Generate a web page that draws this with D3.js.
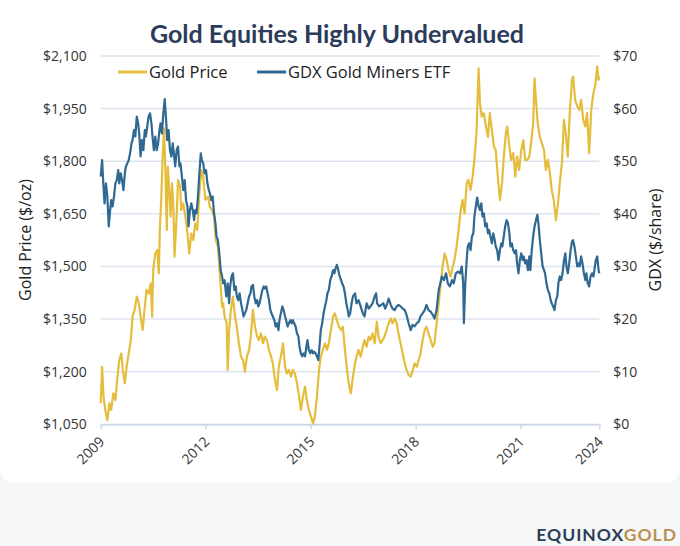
<!DOCTYPE html>
<html>
<head>
<meta charset="utf-8">
<script src="https://cdn.jsdelivr.net/npm/d3@7"></script>
<style>
  html, body { margin: 0; padding: 0; background: #f2f3f5; }
  svg { display: block; }
</style>
</head>
<body>
<svg id="chart" width="680" height="546"></svg>
<script>
// values (x = position on the chart's year axis)
const goldDates = [
  2009.00,2009.04,2009.08,2009.13,2009.19,2009.25,2009.30,2009.36,2009.42,2009.48,
  2009.53,2009.59,2009.63,2009.69,2009.74,2009.80,2009.86,2009.91,2009.97,2010.03,
  2010.09,2010.14,2010.20,2010.26,2010.31,2010.37,2010.43,2010.47,2010.50,2010.56,
  2010.62,2010.66,2010.69,2010.73,2010.77,2010.81,2010.85,2010.89,2010.92,2010.96,
  2011.00,2011.04,2011.08,2011.11,2011.17,2011.21,2011.27,2011.30,2011.36,2011.42,
  2011.48,2011.53,2011.59,2011.65,2011.70,2011.76,2011.82,2011.88,2011.93,2011.99,
  2012.07,2012.12,2012.18,2012.24,2012.29,2012.35,2012.41,2012.47,2012.50,2012.54,
  2012.60,2012.63,2012.67,2012.72,2012.78,2012.84,2012.89,2012.95,2013.01,2013.07,
  2013.12,2013.18,2013.24,2013.29,2013.35,2013.41,2013.47,2013.52,2013.58,2013.64,
  2013.69,2013.75,2013.81,2013.87,2013.92,2013.98,2014.04,2014.09,2014.15,2014.21,
  2014.27,2014.32,2014.38,2014.44,2014.49,2014.55,2014.61,2014.67,2014.72,2014.78,
  2014.84,2014.89,2014.95,2015.01,2015.07,2015.12,2015.18,2015.24,2015.29,2015.35,
  2015.41,2015.47,2015.52,2015.58,2015.64,2015.69,2015.75,2015.81,2015.87,2015.92,
  2015.98,2016.04,2016.09,2016.15,2016.21,2016.27,
  2016.31,2016.37,2016.43,2016.49,2016.54,2016.60,2016.66,2016.71,2016.77,2016.83,
  2016.89,2016.94,2017.00,2017.06,2017.11,2017.17,2017.23,2017.29,2017.34,2017.40,
  2017.46,2017.51,2017.57,2017.63,2017.69,2017.74,2017.80,2017.86,2017.91,2017.97,
  2018.03,2018.09,2018.14,2018.20,2018.26,2018.31,2018.37,2018.43,2018.49,2018.54,
  2018.60,2018.66,2018.71,2018.77,2018.83,2018.89,2018.94,2019.00,2019.06,2019.11,
  2019.17,2019.23,2019.29,2019.34,2019.40,
  2019.46,2019.51,2019.57,2019.63,2019.68,2019.74,2019.80,2019.84,2019.89,2019.95,
  2020.01,2020.07,2020.12,2020.18,2020.24,2020.29,2020.35,2020.41,2020.47,2020.52,
  2020.58,2020.62,2020.68,2020.73,2020.79,2020.85,2020.90,2020.96,2021.02,2021.08,
  2021.13,2021.19,2021.25,2021.30,2021.36,2021.40,2021.44,2021.49,2021.55,2021.61,
  2021.67,2021.72,2021.78,2021.84,2021.89,2021.95,2022.01,2022.07,2022.12,2022.18,
  2022.24,2022.29,2022.35,2022.41,2022.47,2022.50,2022.56,2022.62,2022.68,2022.73,
  2022.79,2022.85,2022.90,2022.96,2023.02,2023.08,2023.13,2023.19,2023.23,2023.25
];
const goldPrice = [
  1110,1214,1129,1091,1062,1110,1091,1138,1119,1186,
  1233,1252,1205,1167,1214,1252,1290,1357,1376,1414,
  1395,1357,1319,1385,1433,1423,1452,1357,1490,1537,
  1547,1480,1604,1690,1813,1894,1766,1604,1785,1718,
  1642,1737,1661,1528,1642,1747,1727,1661,1680,1642,
  1594,1537,1594,1575,1623,1604,1709,1775,1756,1690,
  1699,1670,1661,1642,1575,1556,1471,1385,1395,1357,
  1338,1205,1319,1376,1414,1357,1328,1281,1243,1233,
  1200,1243,1262,1300,1376,1328,1300,1290,1309,1281,
  1300,1290,1262,1243,1224,1176,1148,1214,1243,1281,
  1214,1195,1205,1186,1205,1195,1167,1129,1091,1129,
  1157,1119,1091,1072,1052,1072,1129,1205,1243,1262,
  1281,1262,1281,1319,1357,1366,1347,1328,1319,1328,
  1262,1205,1167,1138,1186,1224,
  1243,1262,1243,1271,1290,1271,1300,1290,1309,1281,
  1343,1300,1281,1290,1300,1319,1338,1352,1338,1352,
  1338,1309,1281,1252,1224,1205,1191,1186,1200,1224,
  1214,1233,1252,1290,1319,1328,1309,1290,1271,1281,
  1338,1395,1442,1499,1537,1518,1490,1471,1499,1518,
  1556,1604,1661,1690,1651,
  1737,1747,1718,1756,1804,1880,2065,1965,1927,1937,
  1899,1870,1937,1889,1841,1832,1756,1689,1737,1813,
  1880,1899,1841,1804,1823,1756,1813,1775,1832,1860,
  1804,1804,1813,1851,1908,2036,1975,1908,1870,1851,
  1832,1775,1804,1765,1718,1689,1632,1680,1737,1794,
  1918,1880,1813,1946,2032,2041,1975,1956,1946,1975,
  1918,1899,1937,1823,1946,1994,2013,2070,2032,2041
];

const gdxDates = [
  2009.00,2009.04,2009.08,2009.11,2009.15,2009.19,2009.23,2009.27,2009.30,2009.34,
  2009.38,2009.42,2009.46,2009.50,2009.53,2009.57,2009.61,2009.65,2009.69,2009.72,
  2009.76,2009.80,2009.84,2009.88,2009.91,2009.95,2009.99,2010.03,2010.07,2010.10,
  2010.14,2010.18,2010.22,2010.26,2010.29,2010.33,2010.37,2010.41,2010.45,2010.48,
  2010.52,2010.56,2010.60,2010.64,2010.68,2010.71,2010.75,2010.79,2010.83,2010.87,
  2010.90,2010.94,2010.98,2011.02,2011.06,2011.09,2011.13,2011.17,2011.21,2011.25,
  2011.28,2011.32,2011.36,2011.40,2011.44,2011.48,2011.51,2011.55,2011.59,2011.63,
  2011.67,2011.70,2011.74,2011.78,2011.82,2011.86,2011.89,2011.93,2011.97,2012.01,
  2012.05,2012.09,2012.12,2012.16,2012.20,2012.24,2012.28,2012.31,2012.35,2012.39,
  2012.43,2012.47,2012.50,2012.54,
  2012.59,2012.63,2012.67,2012.70,2012.74,2012.78,2012.82,2012.86,2012.89,2012.93,
  2012.97,2013.01,2013.05,2013.08,2013.12,2013.16,2013.20,2013.24,2013.28,2013.31,
  2013.35,2013.39,2013.43,2013.47,2013.50,2013.54,2013.58,2013.62,2013.66,2013.69,
  2013.73,2013.77,2013.81,2013.85,2013.88,2013.92,2013.96,2014.00,2014.04,2014.08,
  2014.11,2014.15,2014.19,2014.23,2014.27,2014.30,2014.34,2014.38,2014.42,2014.46,
  2014.49,2014.53,2014.57,2014.61,2014.65,2014.68,2014.72,2014.76,2014.80,2014.84,
  2014.88,2014.91,2014.95,2014.99,2015.03,2015.07,2015.10,2015.14,2015.18,2015.22,
  2015.26,2015.29,2015.33,2015.37,2015.41,2015.45,2015.48,2015.52,2015.56,2015.60,
  2015.64,2015.68,2015.71,2015.75,2015.79,2015.83,2015.87,2015.90,2015.94,2015.98,
  2016.02,2016.06,2016.09,2016.13,2016.17,2016.21,2016.27,
  2016.31,2016.37,2016.43,2016.49,2016.54,2016.60,2016.66,2016.71,2016.77,2016.83,
  2016.87,2016.90,2016.96,2017.02,2017.08,2017.13,2017.19,2017.23,2017.29,2017.34,
  2017.40,2017.46,2017.51,2017.57,2017.63,2017.69,2017.74,2017.80,2017.86,2017.91,
  2017.97,2018.03,2018.09,2018.14,2018.20,2018.26,2018.31,2018.37,2018.43,2018.49,
  2018.54,2018.60,2018.66,
  2018.75,2018.81,2018.87,2018.92,2018.98,2019.04,2019.09,2019.15,2019.21,2019.27,
  2019.32,2019.36,2019.38,2019.42,2019.46,2019.49,2019.53,2019.57,2019.61,2019.65,
  2019.68,2019.72,2019.76,2019.80,2019.84,2019.88,2019.91,2019.95,2019.99,2020.03,
  2020.07,2020.10,2020.14,2020.18,2020.22,2020.26,2020.29,2020.33,2020.37,2020.41,
  2020.45,2020.48,2020.52,2020.56,2020.60,2020.64,2020.68,2020.71,2020.75,2020.79,
  2020.83,2020.87,2020.90,2020.94,2020.98,2021.02,2021.06,2021.09,2021.13,2021.17,
  2021.21,2021.25,2021.28,2021.32,2021.36,2021.40,2021.44,2021.48,2021.51,2021.55,
  2021.59,2021.63,2021.67,2021.70,2021.74,2021.78,2021.82,2021.86,2021.89,2021.93,
  2021.97,2022.01,2022.05,2022.08,2022.12,2022.16,2022.20,2022.24,2022.28,2022.31,
  2022.35,2022.39,2022.43,2022.47,2022.50,2022.54,2022.58,2022.62,2022.66,2022.69,
  2022.73,2022.77,2022.81,2022.85,2022.88,2022.92,2022.96,2023.00,2023.04,2023.08,
  2023.11,2023.15,2023.19,2023.23,2023.25
];
const gdxPrice = [
  47.1,50.2,45.2,42.0,45.8,43.3,37.6,40.7,42.6,41.4,
  43.3,45.8,46.4,48.3,45.8,47.7,46.4,44.5,47.7,49.0,
  49.6,50.2,51.5,53.4,54.0,55.9,54.7,58.5,57.2,55.3,
  50.9,54.0,52.1,55.9,54.7,56.6,58.5,59.1,57.2,54.7,
  52.1,54.7,52.1,53.4,55.9,57.2,55.3,59.1,61.8,57.8,
  54.0,55.9,52.1,50.9,53.4,51.5,49.0,52.1,52.8,49.0,
  49.6,47.1,44.5,46.4,42.6,41.4,37.6,40.7,42.0,40.7,
  38.8,40.7,40.1,43.3,47.7,51.5,50.2,49.6,47.7,48.3,
  45.8,44.5,43.9,42.6,43.3,40.1,38.2,35.7,35.0,32.5,
  29.3,28.1,26.8,27.4,
  24.3,26.8,23.0,26.2,28.1,28.7,25.5,26.2,24.3,23.6,
  24.9,23.0,21.7,20.5,21.1,21.7,23.0,24.3,24.9,26.2,
  26.5,24.3,23.0,23.6,22.4,23.0,24.3,25.5,26.2,25.8,
  26.2,24.9,23.6,21.7,21.1,20.5,19.8,18.6,19.2,17.9,
  19.8,21.1,22.4,21.7,20.5,19.8,18.6,19.2,19.8,19.2,
  19.8,19.2,18.6,17.3,16.7,14.8,13.5,12.9,13.5,12.9,
  14.8,16.0,14.1,13.5,14.1,13.5,13.8,13.5,12.9,12.2,
  15.4,17.9,19.2,21.1,22.4,23.6,24.9,25.5,27.4,28.1,
  29.3,28.7,29.6,30.3,29.3,28.1,27.4,26.8,26.2,24.9,
  23.0,21.7,20.5,21.1,23.0,24.3,24.9,
  23.0,23.6,22.4,21.1,20.5,23.0,22.0,22.4,23.0,24.3,
  24.9,23.0,22.4,22.7,23.0,22.0,23.0,23.9,22.7,22.0,
  21.7,22.4,22.7,22.4,22.0,21.7,20.8,19.2,17.9,18.9,
  18.6,19.2,19.5,20.5,21.1,21.7,22.7,21.7,21.4,20.8,
  20.1,21.7,25.5,
  28.1,27.4,28.7,26.8,26.2,27.4,26.8,28.7,29.0,28.7,
  30.0,26.8,19.2,26.8,31.2,33.8,34.4,33.1,35.7,36.3,
  39.5,41.4,43.1,41.4,40.7,42.0,39.5,40.1,37.6,38.2,
  36.3,36.9,35.7,34.4,36.3,35.0,33.8,33.1,31.2,33.1,
  34.4,33.8,35.7,37.6,38.8,38.2,36.3,33.8,34.4,33.1,
  32.5,33.1,30.6,28.7,31.2,32.5,31.2,31.9,30.6,31.2,
  29.3,31.9,29.3,33.1,35.7,37.6,38.8,39.8,38.2,35.0,
  32.5,30.0,29.3,28.7,26.8,25.5,24.9,23.6,23.0,22.4,
  21.7,23.6,24.3,26.8,28.1,27.4,28.7,31.2,32.5,30.0,
  28.7,30.6,33.1,34.7,35.0,33.8,31.9,30.0,30.6,30.0,
  31.9,30.6,28.7,27.4,28.7,26.8,26.2,28.1,28.7,28.1,
  29.3,31.2,31.9,29.3,28.7
];

const goldTicks = [1050, 1200, 1350, 1500, 1650, 1800, 1950, 2100];
const gdxTicks = [0, 10, 20, 30, 40, 50, 60, 70];
const yearTicks = [2009, 2012, 2015, 2018, 2021, 2023.25];
const yearLabels = ["2009", "2012", "2015", "2018", "2021", "2024"];
const seriesNames = ["Gold Price", "GDX Gold Miners ETF"];

const W = 680, H = 546;
const plotLeft = 100.7, plotRight = 599.3, plotTop = 56, plotBottom = 424.3;
const goldColor = "#e5bd3d", gdxColor = "#2f6891";
const font = "'Open Sans', 'Noto Sans', sans-serif";

const svg = d3.select("#chart");

// page background and white card
const defs = svg.append("defs");
const bg = defs.append("linearGradient").attr("id", "bg").attr("x1", 0).attr("y1", 0).attr("x2", 0).attr("y2", 1);
bg.append("stop").attr("offset", "0%").attr("stop-color", "#eceef1");
bg.append("stop").attr("offset", "100%").attr("stop-color", "#f6f7f9");
svg.append("rect").attr("width", W).attr("height", H).attr("fill", "url(#bg)");
svg.append("rect")
  .attr("x", 0).attr("y", -20).attr("width", W).attr("height", 503)
  .attr("rx", 14).attr("fill", "#fff");

const x = d3.scaleLinear().domain([yearTicks[0], yearTicks[yearTicks.length - 1]]).range([plotLeft, plotRight]);
const yGold = d3.scaleLinear().domain([goldTicks[0], goldTicks[goldTicks.length - 1]]).range([plotBottom, plotTop]);
const yGdx = d3.scaleLinear().domain([gdxTicks[0], gdxTicks[gdxTicks.length - 1]]).range([plotBottom, plotTop]);

// gridlines
svg.append("g")
  .selectAll("line")
  .data(goldTicks.slice(1))
  .enter().append("line")
  .attr("x1", plotLeft).attr("x2", plotRight)
  .attr("y1", d => yGold(d)).attr("y2", d => yGold(d))
  .attr("stroke", "#dde3ef").attr("stroke-width", 1.5);

// axes
const styleText = g => g.selectAll("text")
  .attr("font-family", font).attr("font-size", 14).attr("fill", "#333");

svg.append("g")
  .attr("transform", `translate(${plotLeft},0)`)
  .call(d3.axisLeft(yGold).tickValues(goldTicks).tickSize(0).tickPadding(14)
    .tickFormat(d => "$" + d3.format(",")(d)))
  .call(g => g.select(".domain").remove())
  .call(styleText);

svg.append("g")
  .attr("transform", `translate(${plotRight},0)`)
  .call(d3.axisRight(yGdx).tickValues(gdxTicks).tickSize(0).tickPadding(14)
    .tickFormat(d => "$" + d))
  .call(g => g.select(".domain").remove())
  .call(styleText);

const xAxis = svg.append("g")
  .attr("transform", `translate(0,${plotBottom})`)
  .call(d3.axisBottom(x).tickValues(yearTicks).tickSize(5).tickSizeOuter(0)
    .tickFormat((d, i) => yearLabels[i]));
xAxis.select(".domain").attr("stroke", "#cdd8ea").attr("stroke-width", 2);
xAxis.selectAll(".tick line").attr("stroke", "#cdd8ea").attr("stroke-width", 1.5);
xAxis.call(styleText);
xAxis.selectAll("text")
  .attr("text-anchor", "end")
  .attr("x", -10).attr("y", 11).attr("dy", "0.35em")
  .attr("transform", "rotate(-45)");

// series
const goldData = goldDates.map((d, i) => [d, goldPrice[i]]);
const gdxData = gdxDates.map((d, i) => [d, gdxPrice[i]]);

svg.append("path")
  .datum(goldData)
  .attr("fill", "none").attr("stroke", goldColor).attr("stroke-width", 2.2)
  .attr("stroke-linejoin", "round")
  .attr("d", d3.line().x(d => x(d[0])).y(d => yGold(d[1])));

svg.append("path")
  .datum(gdxData)
  .attr("fill", "none").attr("stroke", gdxColor).attr("stroke-width", 2.2)
  .attr("stroke-linejoin", "round")
  .attr("d", d3.line().x(d => x(d[0])).y(d => yGdx(d[1])));

// title
svg.append("text")
  .attr("x", 337).attr("y", 43)
  .attr("text-anchor", "middle")
  .attr("font-family", "Lato, sans-serif").attr("font-weight", 700).attr("font-size", 25)
  .attr("fill", "#2b3c5a")
  .text("Gold Equities Highly Undervalued");

// legend
const legend = svg.append("g").attr("transform", "translate(118,72)");
const legendX = [0, 139];
[goldColor, gdxColor].forEach((c, i) => {
  legend.append("line")
    .attr("x1", legendX[i]).attr("x2", legendX[i] + 29)
    .attr("stroke", c).attr("stroke-width", 3);
  legend.append("text")
    .attr("x", legendX[i] + 31).attr("y", 6)
    .attr("font-family", font).attr("font-size", 16.5).attr("fill", "#222")
    .text(seriesNames[i]);
});

// axis titles
svg.append("text")
  .attr("transform", "translate(31,240) rotate(-90)")
  .attr("text-anchor", "middle")
  .attr("font-family", font).attr("font-size", 16).attr("fill", "#222")
  .text("Gold Price ($/oz)");

svg.append("text")
  .attr("transform", "translate(661,240) rotate(-90)")
  .attr("text-anchor", "middle")
  .attr("font-family", font).attr("font-size", 16).attr("fill", "#222")
  .text("GDX ($/share)");

// logo
const logo = svg.append("text")
  .attr("x", 677).attr("y", 541)
  .attr("text-anchor", "end")
  .attr("font-family", "Lato, sans-serif").attr("font-weight", 700).attr("font-size", 17.5)
  .attr("letter-spacing", 1);
logo.append("tspan").attr("fill", "#2c3e57").text("EQUINOX");
logo.append("tspan").attr("fill", "#b8924f").text("GOLD");
</script>
</body>
</html>
